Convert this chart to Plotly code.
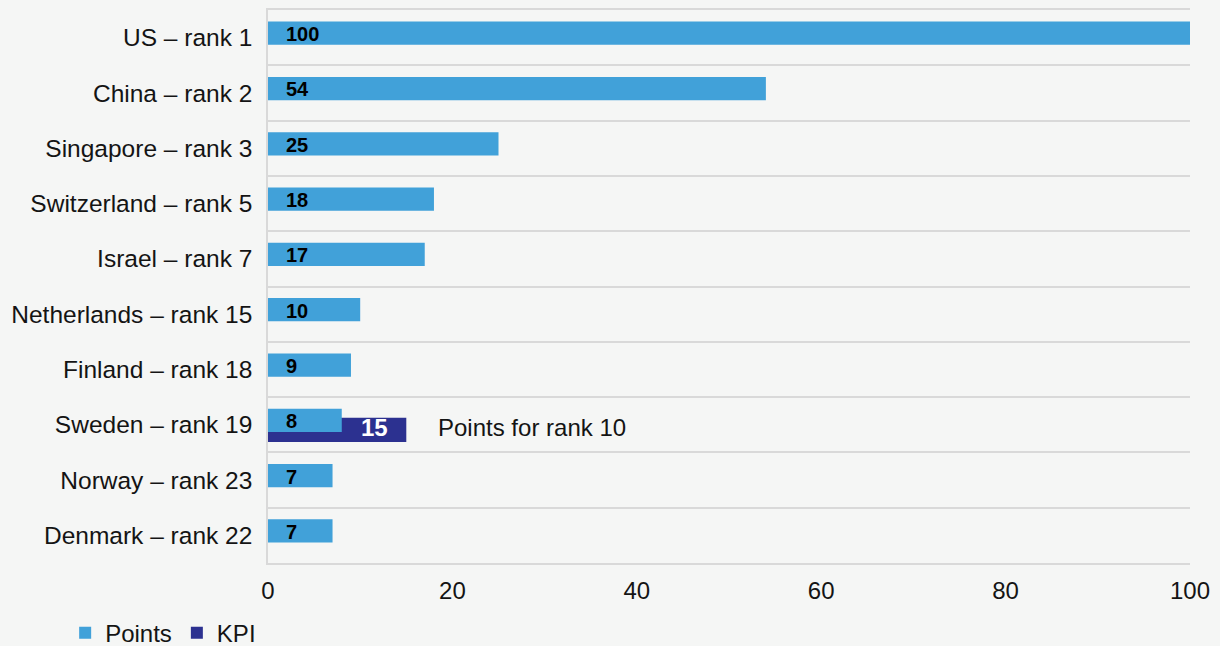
import plotly.graph_objects as go

# Country scores (index, US = 100) and the Sweden KPI target
countries = [
    "US – rank 1",
    "China – rank 2",
    "Singapore – rank 3",
    "Switzerland – rank 5",
    "Israel – rank 7",
    "Netherlands – rank 15",
    "Finland – rank 18",
    "Sweden – rank 19",
    "Norway – rank 23",
    "Denmark – rank 22",
]
points = [100, 54, 25, 18, 17, 10, 9, 8, 7, 7]
kpi_countries = ["Sweden – rank 19"]
kpi_values = [15]
kpi_note = "Points for rank 10"
x_ticks = [0, 20, 40, 60, 80, 100]

LIGHT = "#41a1d9"
DARK = "#2c3190"
BG = "#f5f6f5"
GRID = "#d9d9d9"
TEXT = "#141414"
FONT = "Liberation Sans, Arial, sans-serif"

fig = go.Figure()
# KPI bar sits underneath, the Points bar overlaps it from above
fig.add_trace(go.Bar(
    y=kpi_countries, x=kpi_values, orientation="h", name="KPI",
    marker=dict(color=DARK, line=dict(width=0)),
    width=0.435, offset=-0.125, legendrank=2,
))
fig.add_trace(go.Bar(
    y=countries, x=points, orientation="h", name="Points",
    marker=dict(color=LIGHT, line=dict(width=0)),
    width=0.42, offset=-0.29, legendrank=1,
))

annotations = []
# value labels at the base of each Points bar
for c, v in zip(countries, points):
    annotations.append(dict(
        x=0, y=c, xref="x", yref="y", text=f"<b>{v}</b>",
        xanchor="left", yanchor="middle", xshift=16, yshift=3.5,
        showarrow=False, font=dict(family=FONT, size=20, color="#000000"),
    ))
# KPI value inside the end of the bar, with its note alongside
for c, v in zip(kpi_countries, kpi_values):
    annotations.append(dict(
        x=v, y=c, xref="x", yref="y", text=f"<b>{v}</b>",
        xanchor="right", yanchor="middle", xshift=-16, yshift=-3,
        showarrow=False, font=dict(family=FONT, size=24, color="#ffffff"),
    ))
    annotations.append(dict(
        x=v, y=c, xref="x", yref="y", text=kpi_note,
        xanchor="left", yanchor="middle", xshift=30, yshift=-3,
        showarrow=False, font=dict(family=FONT, size=24, color=TEXT),
    ))

fig.update_layout(
    width=1220, height=646,
    margin=dict(l=268, r=30, t=10, b=83, autoexpand=False),
    paper_bgcolor=BG, plot_bgcolor=BG,
    barmode="overlay",
    font=dict(family=FONT, size=24, color=TEXT),
    showlegend=True,
    legend=dict(
        orientation="h", x=-0.22, xanchor="left", y=-0.127, yanchor="middle",
        font=dict(family=FONT, size=24, color=TEXT),
        bgcolor="rgba(0,0,0,0)",
    ),
    annotations=annotations,
    xaxis=dict(
        range=[0, 100], tickvals=x_ticks, showgrid=False, zeroline=False,
        showline=True, mirror=True, linecolor=GRID, linewidth=1.5,
        ticks="", ticklabelstandoff=5,
        tickfont=dict(family=FONT, size=24, color=TEXT),
    ),
    yaxis=dict(
        type="category", categoryorder="array", categoryarray=countries,
        range=[len(countries) - 0.5, -0.5], tickson="boundaries",
        showgrid=True, gridcolor=GRID, gridwidth=1.5,
        showline=True, linecolor=GRID, linewidth=1.5, zeroline=False,
        ticks="", ticklabelstandoff=9,
        tickfont=dict(family=FONT, size=24.5, color=TEXT),
    ),
)

fig.write_html("out.html")
